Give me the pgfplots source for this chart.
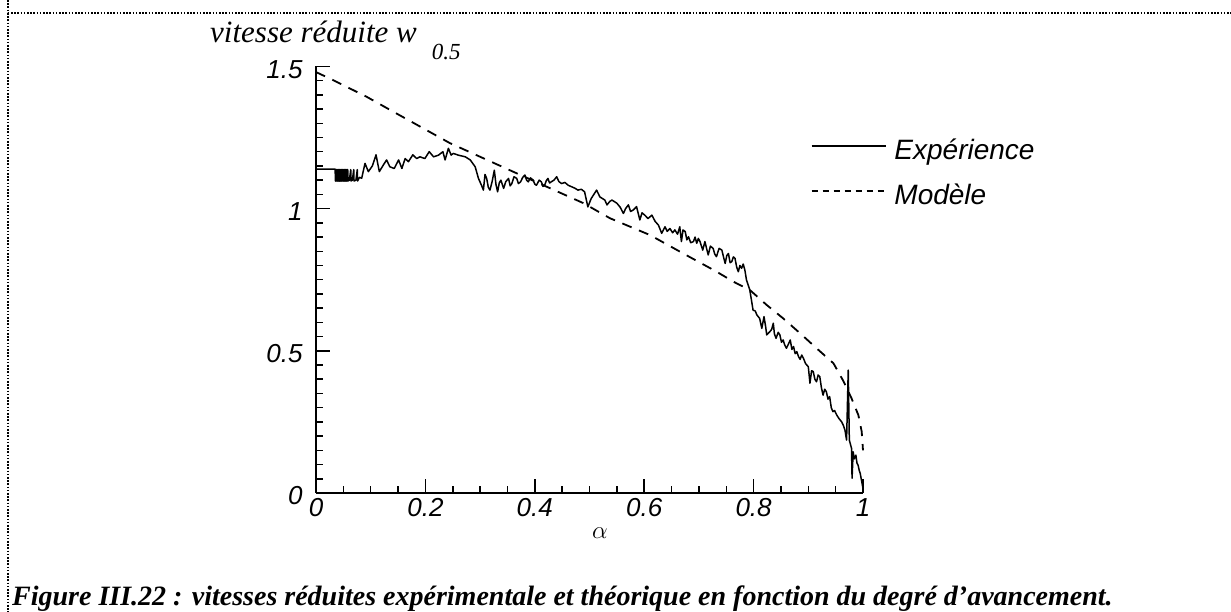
\documentclass[border=0pt]{standalone}
\usepackage{fontspec}
\setmainfont{Liberation Sans}
\newfontfamily\serif{Liberation Serif}
\usepackage{pgfplots}
\pgfplotsset{compat=1.18}

\begin{document}
\begin{tikzpicture}
\path[use as bounding box] (0,0) rectangle (1231pt,612pt);
% dotted frame
\draw[line width=1.6pt, dash pattern=on 1.6pt off 1.6pt] (8pt,612pt) -- (8pt,599pt) -- (1231pt,599pt);
\draw[line width=1.6pt, dash pattern=on 1.6pt off 1.6pt] (8pt,599pt) -- (8pt,0pt);

\begin{axis}[
  scale only axis,
  width=547pt, height=426.6pt,
  at={(316pt,119pt)}, anchor=south west,
  xmin=0, xmax=1, ymin=0, ymax=1.5,
  axis x line*=bottom, axis y line*=left,
  axis line style={line width=1.8pt},
  tick align=inside,
  major tick length=14pt, minor tick length=7pt,
  every tick/.style={black, line width=1.5pt},
  xtick={0,0.2,0.4,0.6,0.8,1}, ytick={0,0.5,1,1.5},
  xticklabels={0,0.2,0.4,0.6,0.8,1}, yticklabels={0,0.5,1,1.5},
  minor x tick num=3, minor y tick num=9,
  ticklabel style={font=\fontsize{26}{26}\selectfont\itshape},
  xticklabel style={yshift=-2pt},
  yticklabel style={xshift=-10pt, yshift=-3pt},
  xlabel={$\alpha$},
  xlabel style={font=\fontsize{30}{30}\selectfont, at={(axis description cs:0.519,-0.094)}, anchor=center},
  ylabel={\serif\itshape vitesse réduite w\hspace{15pt}\raisebox{-17pt}{\fontsize{23}{23}\selectfont 0.5}},
  ylabel style={rotate=-90, font=\fontsize{31}{31}\selectfont, at={(axis description cs:-0.1938,1.055)}, anchor=base west, inner sep=0pt},
  legend style={at={(axis description cs:0.899,0.835)}, anchor=north west, draw=none, fill=none,
    font=\fontsize{28}{28}\selectfont\itshape, row sep=23pt, column sep=8pt,
    nodes={inner sep=0pt, anchor=west}},
  legend cell align=left,
  legend image code/.code={\draw[#1] (0pt,4pt) -- (74pt,4pt);},
  clip=false,
]
% zero segment on axis
\addplot[black, line width=2.6pt, forget plot] coordinates {(0,0) (0.54,0)};

% Experimental
\addplot[black, line width=1.5pt, line join=round, forget plot] coordinates {
(0,1.139) (0.035,1.139)
(0.0355,1.097) (0.036,1.137) (0.0365,1.097) (0.037,1.137) (0.0375,1.097) (0.038,1.137)
(0.0385,1.097) (0.039,1.137) (0.0395,1.097) (0.040,1.137) (0.0405,1.097) (0.041,1.137)
(0.0415,1.097) (0.042,1.137) (0.0425,1.097) (0.043,1.137) (0.0435,1.097) (0.044,1.137)
(0.0445,1.097) (0.045,1.137) (0.0455,1.097) (0.046,1.137) (0.0465,1.097) (0.047,1.137)
(0.0475,1.097) (0.048,1.137) (0.0485,1.097) (0.049,1.137) (0.0495,1.097) (0.050,1.137)
(0.0505,1.097) (0.051,1.137) (0.0515,1.097) (0.052,1.137) (0.0525,1.097) (0.053,1.137)
(0.0535,1.097) (0.054,1.137) (0.0545,1.097) (0.055,1.137) (0.0555,1.097) (0.056,1.137)
(0.0565,1.097) (0.057,1.137) (0.0575,1.097) (0.058,1.137) (0.0585,1.097)
(0.061,1.100) (0.0635,1.137) (0.064,1.097) (0.0665,1.100) (0.069,1.137) (0.0695,1.097)
(0.073,1.100) (0.0755,1.137) (0.076,1.097) (0.0795,1.110) (0.0835,1.1065)
(0.0896,1.159) (0.0957,1.130) (0.1030,1.150) (0.1097,1.189) (0.1158,1.130) (0.123,1.153) (0.129,1.171)
(0.135,1.147) (0.143,1.141) (0.151,1.171) (0.157,1.141) (0.163,1.176) (0.169,1.165)
(0.177,1.189) (0.184,1.176) (0.190,1.182) (0.199,1.176) (0.207,1.200) (0.215,1.182)
(0.224,1.188) (0.232,1.200) (0.236,1.171) (0.242,1.212) (0.247,1.188) (0.251,1.194)
(0.260,1.188) (0.273,1.182) (0.282,1.171) (0.291,1.147) (0.297,1.106) (0.303,1.080) (0.306,1.065)
(0.309,1.120) (0.312,1.106) (0.315,1.075) (0.318,1.065) (0.322,1.095) (0.326,1.135) (0.329,1.085) (0.332,1.059) (0.335,1.090) (0.338,1.100) (0.343,1.071)
(0.347,1.095) (0.352,1.106) (0.355,1.080) (0.358,1.088) (0.362,1.112) (0.367,1.106) (0.370,1.088) (0.374,1.094) (0.378,1.110) (0.382,1.118) (0.385,1.100) (0.388,1.094)
(0.392,1.108) (0.397,1.100) (0.400,1.086) (0.403,1.082) (0.408,1.100) (0.412,1.094) (0.415,1.078) (0.418,1.082) (0.421,1.098) (0.424,1.106) (0.427,1.090) (0.430,1.094)
(0.435,1.100) (0.440,1.112) (0.444,1.095) (0.449,1.088) (0.455,1.092) (0.461,1.082) (0.467,1.077) (0.473,1.072) (0.479,1.065) (0.485,1.068) (0.491,1.059)
(0.497,1.006) (0.503,1.035) (0.508,1.050) (0.513,1.065) (0.519,1.041) (0.528,1.030)
(0.532,1.013) (0.537,1.025) (0.541,1.030) (0.550,1.019) (0.556,1.005) (0.562,0.983) (0.566,1.000) (0.571,1.013) (0.575,0.990) (0.580,0.995)
(0.586,1.007) (0.592,0.960) (0.596,0.985) (0.601,0.977) (0.607,0.965) (0.614,0.977) (0.620,0.955) (0.626,0.942) (0.632,0.913)
(0.638,0.936) (0.642,0.920) (0.647,0.930) (0.652,0.915) (0.656,0.925) (0.661,0.910) (0.665,0.936) (0.668,0.884) (0.671,0.925) (0.675,0.919)
(0.678,0.890) (0.681,0.901) (0.685,0.880) (0.690,0.884) (0.693,0.900) (0.696,0.878) (0.699,0.895) (0.702,0.884) (0.707,0.854) (0.711,0.884)
(0.714,0.860) (0.717,0.837) (0.721,0.868) (0.726,0.860) (0.729,0.840) (0.732,0.831) (0.737,0.860) (0.742,0.854) (0.745,0.830) (0.748,0.807) (0.751,0.835) (0.754,0.842)
(0.757,0.810) (0.760,0.813) (0.763,0.830) (0.766,0.825) (0.769,0.795) (0.772,0.778) (0.775,0.800) (0.778,0.790) (0.781,0.805) (0.784,0.784) (0.787,0.749)
(0.793,0.714) (0.796,0.679) (0.799,0.643) (0.803,0.640) (0.806,0.626) (0.811,0.614) (0.815,0.579)
(0.819,0.620) (0.822,0.585) (0.824,0.556) (0.830,0.568) (0.833,0.575) (0.836,0.597) (0.838,0.560) (0.841,0.544) (0.845,0.565) (0.848,0.556)
(0.851,0.530) (0.854,0.538) (0.857,0.520) (0.860,0.509) (0.864,0.525) (0.867,0.538) (0.870,0.505) (0.873,0.515) (0.876,0.490) (0.879,0.497) (0.882,0.480) (0.885,0.470)
(0.888,0.485) (0.891,0.474) (0.895,0.455) (0.900,0.444) (0.903,0.386) (0.906,0.430) (0.909,0.427) (0.912,0.400) (0.915,0.391) (0.918,0.415) (0.921,0.409)
(0.924,0.370) (0.927,0.344) (0.930,0.365) (0.933,0.356) (0.936,0.330) (0.939,0.339) (0.942,0.300) (0.945,0.286) (0.948,0.290) (0.952,0.274) (0.956,0.262) (0.961,0.250)
(0.964,0.238) (0.967,0.221) (0.970,0.186) (0.973,0.432) (0.975,0.186) (0.979,0.157) (0.980,0.052)
(0.982,0.145) (0.984,0.120) (0.987,0.133) (0.989,0.105) (0.991,0.098) (0.993,0.080) (0.995,0.068) (0.9995,0.021) (1.0,0.0)
};

% Model
\addplot[black, line width=1.8pt, dash pattern=on 10pt off 8pt, forget plot] coordinates {
(0,1.480) (0.031,1.452) (0.0927,1.393) (0.141,1.341) (0.245,1.230) (0.367,1.124)
(0.489,1.019) (0.5375,0.966) (0.6106,0.907) (0.6715,0.842) (0.7325,0.778) (0.763,0.743)
(0.793,0.714) (0.824,0.661) (0.854,0.614) (0.885,0.5615) (0.915,0.509) (0.946,0.456)
(0.964,0.394) (0.979,0.333) (0.9915,0.274) (0.9976,0.216) (1.0,0.150)
};

\addlegendimage{black, line width=1.5pt}
\addlegendentry{Expérience}
\addlegendimage{black, line width=1.5pt, dash pattern=on 6pt off 5pt}
\addlegendentry{Modèle}
\end{axis}

\node[anchor=base west, inner sep=0pt, font=\fontsize{28}{28}\selectfont\serif\bfseries\itshape] at (12pt,6pt)
  {Figure III.22 : vitesses réduites expérimentale et théorique en fonction du degré d’avancement.};
\end{tikzpicture}
\end{document}
